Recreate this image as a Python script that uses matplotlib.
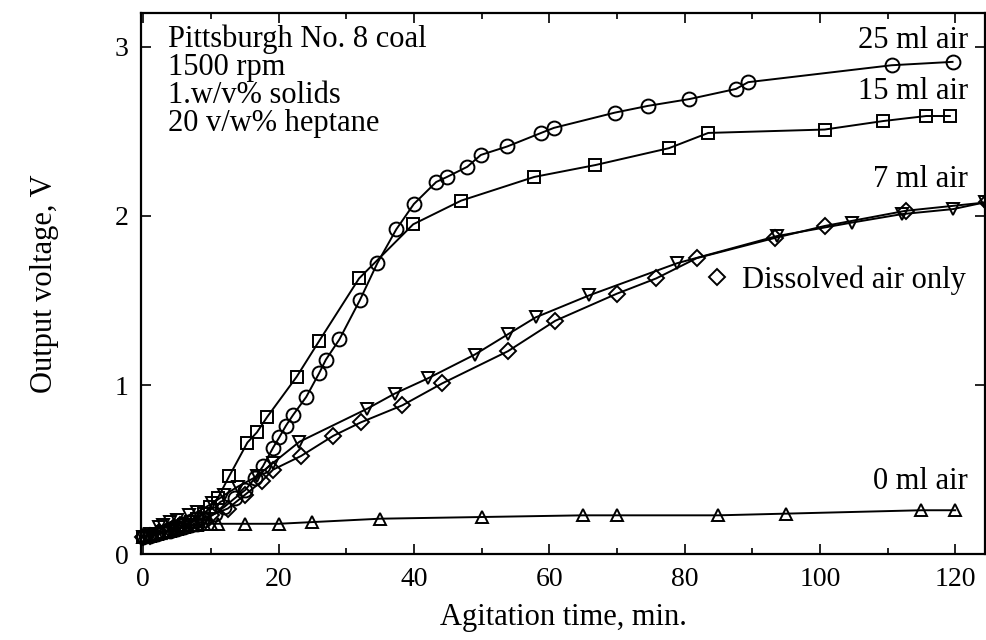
import matplotlib
matplotlib.use("Agg")
import matplotlib.pyplot as plt
from matplotlib.lines import Line2D
from matplotlib.ticker import MultipleLocator

plt.rcParams['font.family'] = ['Liberation Serif', 'DejaVu Serif']

# agitation time (min) and output voltage (V) for each air volume
t_0ml = [0, 1, 2, 3, 4, 5, 6, 7, 8, 9, 10, 11, 15, 20, 25, 35, 50, 65, 70, 85, 95, 115, 120]
v_0ml = [0.10, 0.11, 0.12, 0.13, 0.14, 0.15, 0.16, 0.17, 0.17, 0.18, 0.18, 0.18, 0.18, 0.18,
         0.19, 0.21, 0.22, 0.23, 0.23, 0.23, 0.24, 0.26, 0.26]

t_25ml = [0, 1, 2, 3, 4, 5, 6, 7, 8, 9, 10.6, 12, 13.5, 15.1, 16.5, 17.7, 19.2, 20.1, 21.1,
          22.1, 24.1, 26, 27, 29, 32, 34.6, 37.4, 40, 43.3, 44.9, 47.9, 49.9, 53.8, 58.8,
          60.7, 69.7, 74.6, 80.7, 87.6, 89.4, 110.6, 119.6]
v_25ml = [0.10, 0.11, 0.12, 0.13, 0.14, 0.15, 0.16, 0.17, 0.18, 0.20, 0.24, 0.28, 0.33, 0.38,
          0.45, 0.52, 0.63, 0.69, 0.76, 0.82, 0.93, 1.07, 1.15, 1.27, 1.50, 1.72, 1.92, 2.07,
          2.20, 2.23, 2.29, 2.36, 2.41, 2.49, 2.52, 2.61, 2.65, 2.69, 2.75, 2.79, 2.89, 2.91]

t_15ml = [0, 1, 2, 3, 4, 5, 6, 7, 8, 9, 9.9, 11, 12.7, 15.4, 16.8, 18.3, 22.7, 26, 31.9,
          39.9, 47, 57.8, 66.8, 77.7, 83.5, 100.7, 109.3, 115.7, 119.2]
v_15ml = [0.10, 0.11, 0.12, 0.13, 0.14, 0.15, 0.17, 0.19, 0.21, 0.24, 0.28, 0.33, 0.46, 0.66,
          0.72, 0.81, 1.05, 1.26, 1.63, 1.95, 2.09, 2.23, 2.30, 2.40, 2.49, 2.51, 2.56, 2.59, 2.59]

t_7ml = [0, 1, 2.4, 3, 4, 5, 6.7, 8, 10.2, 12, 14, 16.8, 19.2, 23.1, 33.1, 37.2, 42.1, 49,
         53.9, 58, 65.9, 78.9, 93.6, 104.7, 112.1, 119.7, 124.4]
v_7ml = [0.10, 0.12, 0.16, 0.17, 0.19, 0.20, 0.23, 0.25, 0.30, 0.35, 0.40, 0.46, 0.54, 0.665,
         0.86, 0.95, 1.04, 1.18, 1.30, 1.40, 1.53, 1.72, 1.88, 1.96, 2.01, 2.04, 2.08]

t_diss = [0, 1, 2.4, 3.5, 4.5, 5.5, 7, 8.5, 10, 12.5, 15, 17.5, 19.2, 23.3, 28.1, 32.2, 38.3,
          44.2, 53.9, 60.9, 70, 75.8, 81.8, 93.4, 100.7, 112.7, 124.7]
v_diss = [0.10, 0.11, 0.13, 0.14, 0.16, 0.17, 0.19, 0.21, 0.23, 0.27, 0.35, 0.43, 0.50, 0.58,
          0.70, 0.78, 0.88, 1.01, 1.20, 1.38, 1.54, 1.63, 1.75, 1.87, 1.94, 2.03, 2.08]

info_lines = ["Pittsburgh No. 8 coal", "1500 rpm", "1.w/v% solids", "20 v/w% heptane"]

curve_labels = ["25 ml air", "15 ml air", "7 ml air", "0 ml air"]
curve_label_y = [2.99, 2.69, 2.17, 0.385]

fig = plt.figure(figsize=(9.87, 6.4), dpi=100)
ax = fig.add_axes([0.143, 0.134, 0.855, 0.846])

style = dict(color='black', lw=1.4, mfc='none', mec='black', mew=1.4, clip_on=False)
ax.plot(t_0ml, v_0ml, marker='^', ms=9, **style)
ax.plot(t_25ml, v_25ml, marker='o', ms=10, **style)
ax.plot(t_15ml, v_15ml, marker='s', ms=9, **style)
ax.plot(t_7ml, v_7ml, marker='v', ms=9, **style)
ax.plot(t_diss, v_diss, marker='D', ms=8, **style)

ax.set_xlim(-0.3, 124.4)
ax.set_ylim(0, 3.2)

ax.xaxis.set_major_locator(MultipleLocator(20))
ax.xaxis.set_minor_locator(MultipleLocator(10))
ax.yaxis.set_major_locator(MultipleLocator(1))
ax.tick_params(which='both', direction='in', top=True, right=True, width=1.2,
               labelsize=20, pad=9)
ax.tick_params(which='major', length=7)
ax.tick_params(which='minor', length=4)
for sp in ax.spines.values():
    sp.set_linewidth(1.6)

ax.set_xlabel("Agitation time, min.", fontsize=22, labelpad=8)
ax.set_ylabel("Output voltage, V", fontsize=22, labelpad=40)

# condition block, one text so the tight leading stays as in the original
ax.text(3.7, 3.13, "\n".join(info_lines), fontsize=22, va='top', ha='left',
        linespacing=0.95)

for lab, y in zip(curve_labels, curve_label_y):
    ax.text(121.9, y, lab, fontsize=22, va='baseline', ha='right')

key = Line2D([], [], ls='none', marker='D', ms=8, mfc='none', mec='black', mew=1.4)
ax.legend([key], ["Dissolved air only"], loc='center right', frameon=False,
          bbox_to_anchor=(0.977, 0.506), borderaxespad=0, borderpad=0,
          handlelength=0.8, handletextpad=0.4, fontsize=22)

fig.savefig("out.png", dpi=100)
